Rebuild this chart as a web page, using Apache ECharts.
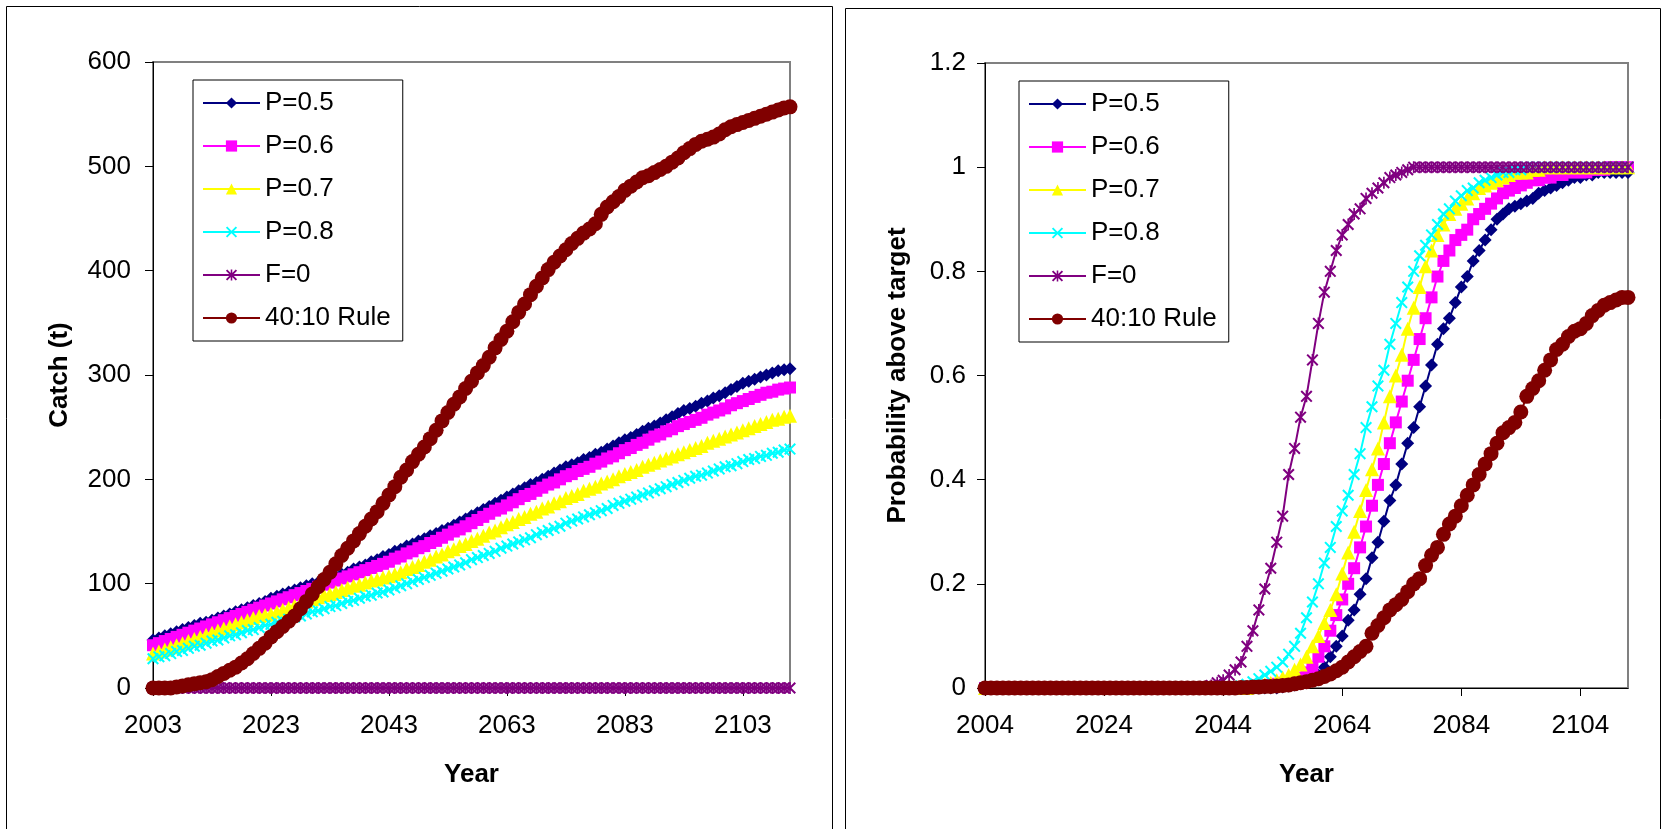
<!DOCTYPE html>
<html>
<head>
<meta charset="utf-8">
<script src="https://cdn.jsdelivr.net/npm/echarts@6/dist/echarts.min.js"></script>
<style>
html,body{margin:0;padding:0;background:#fff;}
#c{width:1664px;height:829px;}
</style>
</head>
<body>
<div id="c"></div>
<script>
// ---------- categories ----------
const catchStartYear = 2003, catchEndYear = 2111;
const probStartYear = 2004, probEndYear = 2112;
const catchYears = [];
for (let y = catchStartYear; y <= catchEndYear; y++) catchYears.push(String(y));
const probYears = [];
for (let y = probStartYear; y <= probEndYear; y++) probYears.push(String(y));

const seriesNames = ['P=0.5', 'P=0.6', 'P=0.7', 'P=0.8', 'F=0', '40:10 Rule'];

// ---------- Catch (t), years 2003..2111 ----------
const catchP05 = [
  46,48,50,52,54,56,58,60,62,63,
  65,67,69,71,73,75,77,79,81,83,
  86,88,90,92,94,96,98,100,101,103,
  105,107,109,111,114,116,118,121,123,126,
  128,131,133,136,138,141,143,146,148,151,
  153,156,159,162,165,168,171,174,177,180,
  183,186,189,192,195,197,200,203,206,209,
  212,214,216,219,221,224,226,229,232,235,
  238,240,243,246,249,251,254,257,260,263,
  266,268,270,273,275,278,280,283,286,289,
  292,294,296,298,300,302,304,305,306
];
const catchP06 = [
  41,43,45,47,49,51,53,55,57,59,
  61,63,65,67,69,71,73,75,77,79,
  81,83,85,87,89,91,93,95,97,99,
  101,103,105,107,109,111,113,115,117,119,
  121,124,126,129,131,134,136,139,141,144,
  147,150,152,155,158,161,164,167,170,172,
  175,178,181,184,186,189,192,195,197,200,
  203,205,208,210,212,215,217,220,222,225,
  228,230,233,235,238,241,243,246,248,251,
  253,255,257,259,262,264,266,268,271,273,
  275,277,279,281,283,284,286,287,288
];
const catchP07 = [
  33,35,37,39,41,43,45,47,49,51,
  53,55,57,59,61,63,65,67,69,70,
  71,73,75,77,79,81,83,85,87,89,
  90,92,94,96,98,99,101,103,104,106,
  107,109,111,114,116,118,121,123,126,128,
  131,133,136,138,141,143,146,149,151,154,
  157,159,162,164,167,169,172,174,177,179,
  182,184,186,189,191,193,196,198,200,203,
  205,207,209,212,214,216,218,220,222,224,
  226,228,230,232,235,237,239,241,243,245,
  247,249,251,253,255,257,258,260,261
];
const catchP08 = [
  28,30,31,33,35,36,38,40,41,43,
  45,46,48,50,51,53,55,56,58,60,
  61,63,64,66,68,69,71,73,74,76,
  78,79,81,83,84,86,88,89,91,92,
  94,96,98,100,102,104,106,108,110,112,
  114,116,118,120,123,125,127,129,131,134,
  136,138,140,142,144,147,149,151,153,155,
  158,160,162,164,166,168,170,172,175,177,
  179,181,183,185,187,189,191,193,195,197,
  199,201,203,204,206,208,210,212,213,215,
  217,219,220,222,223,225,226,228,229
];
const catchF0 = [
  0,0,0,0,0,0,0,0,0,0,
  0,0,0,0,0,0,0,0,0,0,
  0,0,0,0,0,0,0,0,0,0,
  0,0,0,0,0,0,0,0,0,0,
  0,0,0,0,0,0,0,0,0,0,
  0,0,0,0,0,0,0,0,0,0,
  0,0,0,0,0,0,0,0,0,0,
  0,0,0,0,0,0,0,0,0,0,
  0,0,0,0,0,0,0,0,0,0,
  0,0,0,0,0,0,0,0,0,0,
  0,0,0,0,0,0,0,0,0
];
const catchRule = [
  0,0,0,0,1,2,3,4,5,6,
  8,11,14,17,20,24,28,33,38,43,
  49,54,59,64,69,76,83,90,97,104,
  111,119,127,134,141,148,155,162,169,177,
  185,193,202,209,217,224,231,239,247,256,
  264,272,279,287,294,302,309,317,326,334,
  342,351,360,368,377,385,393,401,408,414,
  420,426,431,436,440,445,454,461,466,471,
  477,481,485,489,491,494,497,500,504,508,
  513,517,521,524,526,528,531,535,538,540,
  542,544,546,548,550,552,554,556,557
];

// ---------- Probability above target, years 2004..2112 ----------
const probP05 = [
  0,0,0,0,0,0,0,0,0,0,
  0,0,0,0,0,0,0,0,0,0,
  0,0,0,0,0,0,0,0,0,0,
  0,0,0,0,0,0,0,0,0,0,
  0,0,0,0,0,0,0,0,0,0,
  0.002,0.004,0.006,0.008,0.01,0.015,0.025,0.04,0.06,0.08,
  0.10,0.13,0.15,0.18,0.21,0.25,0.28,0.32,0.36,0.39,
  0.43,0.47,0.50,0.54,0.58,0.62,0.66,0.69,0.71,0.74,
  0.77,0.79,0.82,0.84,0.86,0.88,0.90,0.91,0.92,0.925,
  0.93,0.935,0.94,0.95,0.955,0.96,0.965,0.97,0.975,0.98,
  0.98,0.985,0.985,0.99,0.99,0.99,0.99,0.99,0.99
];
const probP06 = [
  0,0,0,0,0,0,0,0,0,0,
  0,0,0,0,0,0,0,0,0,0,
  0,0,0,0,0,0,0,0,0,0,
  0,0,0,0,0,0,0,0,0,0,
  0,0,0,0,0,0,0.002,0.004,0.006,0.008,
  0.01,0.012,0.015,0.02,0.03,0.04,0.06,0.08,0.11,0.14,
  0.17,0.20,0.23,0.27,0.31,0.35,0.39,0.43,0.47,0.51,
  0.55,0.59,0.63,0.67,0.71,0.75,0.79,0.82,0.84,0.86,
  0.87,0.88,0.90,0.91,0.92,0.93,0.94,0.95,0.955,0.96,
  0.965,0.97,0.975,0.975,0.98,0.98,0.985,0.985,0.99,0.99,
  0.99,0.99,0.995,0.995,0.995,1,1,1,1
];
const probP07 = [
  0,0,0,0,0,0,0,0,0,0,
  0,0,0,0,0,0,0,0,0,0,
  0,0,0,0,0,0,0,0,0,0,
  0,0,0,0,0,0,0,0,0,0,
  0,0,0,0,0,0.002,0.004,0.007,0.01,0.015,
  0.02,0.025,0.035,0.045,0.06,0.08,0.1,0.125,0.15,0.18,
  0.22,0.26,0.30,0.34,0.38,0.42,0.46,0.51,0.56,0.60,
  0.64,0.69,0.73,0.77,0.81,0.84,0.87,0.89,0.91,0.92,
  0.93,0.94,0.95,0.96,0.965,0.97,0.975,0.98,0.985,0.99,
  0.99,0.99,0.995,0.995,1,1,1,1,1,1,
  1,1,1,1,1,1,1,1,1
];
const probP08 = [
  0,0,0,0,0,0,0,0,0,0,
  0,0,0,0,0,0,0,0,0,0,
  0,0,0,0,0,0,0,0,0,0,
  0,0,0,0,0,0,0,0,0,0,
  0,0,0.002,0.004,0.007,0.012,0.018,0.025,0.032,0.04,
  0.05,0.065,0.08,0.105,0.135,0.165,0.2,0.24,0.27,0.31,
  0.34,0.37,0.41,0.45,0.50,0.54,0.58,0.61,0.66,0.70,
  0.74,0.77,0.80,0.83,0.85,0.87,0.89,0.91,0.92,0.935,
  0.945,0.955,0.96,0.97,0.975,0.98,0.985,0.99,0.99,0.995,
  0.995,1,1,1,1,1,1,1,1,1,
  1,1,1,1,1,1,1,1,1
];
const probF0 = [
  0,0,0,0,0,0,0,0,0,0,
  0,0,0,0,0,0,0,0,0,0,
  0,0,0,0,0,0,0,0,0,0,
  0,0,0,0,0,0,0,0.003,0.005,0.01,
  0.015,0.025,0.035,0.05,0.08,0.11,0.15,0.19,0.23,0.28,
  0.33,0.41,0.46,0.52,0.56,0.63,0.70,0.76,0.80,0.84,
  0.87,0.89,0.91,0.92,0.94,0.95,0.96,0.97,0.98,0.985,
  0.99,0.995,1,1,1,1,1,1,1,1,
  1,1,1,1,1,1,1,1,1,1,
  1,1,1,1,1,1,1,1,1,1,
  1,1,1,1,1,1,1,1,1
];
const probRule = [
  0,0,0,0,0,0,0,0,0,0,
  0,0,0,0,0,0,0,0,0,0,
  0,0,0,0,0,0,0,0,0,0,
  0,0,0,0,0,0,0,0,0,0,
  0,0,0,0.001,0.001,0.002,0.002,0.003,0.003,0.004,
  0.005,0.006,0.008,0.01,0.012,0.015,0.018,0.022,0.027,0.033,
  0.04,0.05,0.06,0.07,0.08,0.105,0.12,0.135,0.15,0.16,
  0.17,0.185,0.20,0.21,0.235,0.255,0.27,0.295,0.315,0.33,
  0.35,0.37,0.39,0.41,0.43,0.45,0.47,0.49,0.50,0.51,
  0.53,0.56,0.575,0.59,0.61,0.63,0.65,0.66,0.675,0.685,
  0.69,0.70,0.715,0.725,0.735,0.74,0.745,0.75,0.75
];

// ---------- styling ----------
const FONT = '"Liberation Sans", Arial, sans-serif';
const SYM_X = 'path://M0,1.2L1.2,0L5,3.8L8.8,0L10,1.2L6.2,5L10,8.8L8.8,10L5,6.2L1.2,10L0,8.8L3.8,5Z';
const SYM_AST = 'path://M0,1.2L1.2,0L5,3.8L8.8,0L10,1.2L6.2,5L10,8.8L8.8,10L5,6.2L1.2,10L0,8.8L3.8,5Z M4.3,0L5.7,0L5.7,10L4.3,10Z';
const styles = [
  {color: '#000080', symbol: 'diamond', size: 13},
  {color: '#FF00FF', symbol: 'rect', size: 12},
  {color: '#FFFF00', symbol: 'triangle', size: 14},
  {color: '#00FFFF', symbol: SYM_X, size: 12},
  {color: '#800080', symbol: SYM_AST, size: 12},
  {color: '#800000', symbol: 'circle', size: 15}
];
const catchData = [catchP05, catchP06, catchP07, catchP08, catchF0, catchRule];
const probData = [probP05, probP06, probP07, probP08, probF0, probRule];

const series = [];
function addSeries(datasets, axisIndex) {
  datasets.forEach((d, i) => {
    const s = styles[i];
    series.push({
      name: seriesNames[i],
      type: 'line',
      xAxisIndex: axisIndex,
      yAxisIndex: axisIndex,
      data: d,
      symbol: s.symbol,
      symbolSize: s.size,
      showAllSymbol: true,
      clip: false,
      lineStyle: {color: s.color, width: 2},
      itemStyle: {color: s.color, borderWidth: 0},
      emphasis: {disabled: true},
      animation: false
    });
  });
}
addSeries(catchData, 0);
addSeries(probData, 1);

function legendAt(left, top) {
  return {
    data: seriesNames,
    orient: 'vertical',
    left: left,
    top: top,
    padding: [10, 12, 10, 9],
    itemGap: 17,
    itemWidth: 57,
    itemHeight: 14,
    backgroundColor: '#fff',
    borderColor: '#000',
    borderWidth: 1,
    borderRadius: 0,
    selectedMode: false,
    textStyle: {fontFamily: FONT, fontSize: 26, color: '#000', padding: [0, 0, 0, 0]}
  };
}

function xAxisFor(cats, grid) {
  return {
    type: 'category',
    gridIndex: grid,
    data: cats,
    boundaryGap: false,
    name: 'Year',
    nameLocation: 'middle',
    nameGap: 74,
    nameTextStyle: {fontFamily: FONT, fontSize: 26, fontWeight: 'bold', color: '#000'},
    axisLine: {show: true, onZero: false, lineStyle: {color: '#000', width: 1}},
    axisTick: {show: true, inside: false, length: 8, interval: 19, lineStyle: {color: '#000'}},
    axisLabel: {interval: 19, margin: 25, fontFamily: FONT, fontSize: 26, color: '#000'},
    splitLine: {show: false}
  };
}
function yAxisFor(grid, max, interval, name, gap, labelMargin) {
  return {
    type: 'value',
    gridIndex: grid,
    min: 0,
    max: max,
    interval: interval,
    name: name,
    nameLocation: 'middle',
    nameGap: gap,
    nameTextStyle: {fontFamily: FONT, fontSize: 26, fontWeight: 'bold', color: '#000'},
    axisLine: {show: true, lineStyle: {color: '#000', width: 1}},
    axisTick: {show: true, inside: false, length: 8, lineStyle: {color: '#000'}},
    axisLabel: {margin: labelMargin, fontFamily: FONT, fontSize: 26, color: '#000'},
    splitLine: {show: false}
  };
}

const chart = echarts.init(document.getElementById('c'), null, {renderer: 'canvas'});
chart.setOption({
  animation: false,
  backgroundColor: '#fff',
  grid: [
    {left: 153, top: 62, right: 874, bottom: 141, show: true, borderColor: '#808080', borderWidth: 2, backgroundColor: 'transparent'},
    {left: 985, top: 63, right: 36, bottom: 141, show: true, borderColor: '#808080', borderWidth: 2, backgroundColor: 'transparent'}
  ],
  legend: [legendAt(193, 80), legendAt(1019, 81)],
  xAxis: [xAxisFor(catchYears, 0), xAxisFor(probYears, 1)],
  yAxis: [
    yAxisFor(0, 600, 100, 'Catch (t)', 80, 22),
    yAxisFor(1, 1.2, 0.2, 'Probability above target', 74, 19)
  ],
  graphic: [
    {type: 'rect', shape: {x: 6.5, y: 6.5, width: 826, height: 900}, style: {fill: 'none', stroke: '#000', lineWidth: 1}, silent: true, z: -1},
    {type: 'rect', shape: {x: 845.5, y: 8.5, width: 815, height: 900}, style: {fill: 'none', stroke: '#000', lineWidth: 1}, silent: true, z: -1}
  ],
  series: series
});
</script>
</body>
</html>
